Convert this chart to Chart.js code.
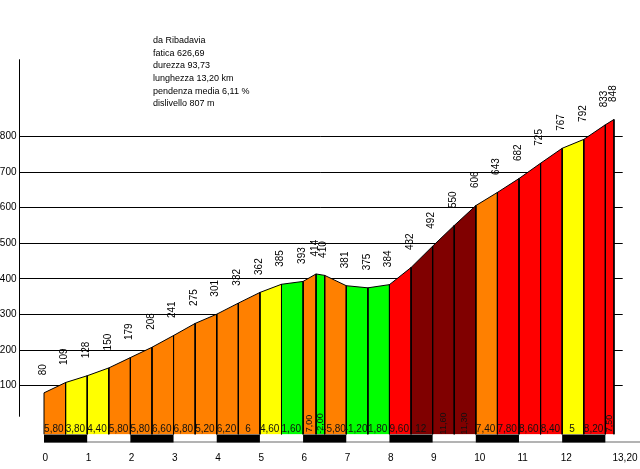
<!DOCTYPE html>
<html><head><meta charset="utf-8">
<script src="https://cdn.jsdelivr.net/npm/chart.js@4/dist/chart.umd.min.js"></script>
<style>html,body{margin:0;padding:0;background:#fff}#wrap{width:640px;height:469px;position:relative}</style>
</head><body><div id="wrap"><canvas id="c"></canvas></div>
<script>
// ---- data ----
const distances = [0,0.5,1,1.5,2,2.5,3,3.5,4,4.5,5,5.5,6,6.3,6.5,7,7.5,8,8.5,9,9.5,10,10.5,11,11.5,12,12.5,13,13.2];
const elevations = [80,109,128,150,179,208,241,275,301,332,362,385,393,414,410,381,375,384,432,492,550,606,643,682,725,767,792,833,848];
const gradients = [5.8,3.8,4.4,5.8,5.8,6.6,6.8,5.2,6.2,6,4.6,1.6,7,-2,-5.8,-1.2,1.8,9.6,12,11.6,11.3,7.4,7.8,8.6,8.4,5,8.2,7.5];
const gradientLabels = ['5,80','3,80','4,40','5,80','5,80','6,60','6,80','5,20','6,20','6','4,60','1,60','7,00','-2,00','-5,80','-1,20','1,80','9,60','12','11,60','11,30','7,40','7,80','8,60','8,40','5','8,20','7,50'];
const xTicks = [0,1,2,3,4,5,6,7,8,9,10,11,12,13.2];
const xTickLabels = ['0','1','2','3','4','5','6','7','8','9','10','11','12','13,20'];
const yTicks = [100,200,300,400,500,600,700,800];
const kmBlackStarts = [0,2,4,6,8,10,12];
const infoLines = ['da Ribadavia','fatica 626,69','durezza 93,73','lunghezza 13,20 km','pendenza media 6,11 %','dislivello 807 m'];

// ---- scale ranges ----
const X_MIN = -0.579, X_MAX = 13.402;
const Y_MIN = -37, Y_MAX = 1017;
const AXIS_LINE_BOTTOM = 13;

function gradeColor(g){
  const a = Math.abs(g);
  if (a < 3) return '#00ff00';
  if (a <= 5) return '#ffff00';
  if (a < 7.5) return '#ff8000';
  if (a < 10) return '#ff0000';
  return '#800000';
}

const datasets = gradients.map((g,i)=>({
  data:[
    {x:distances[i],y:Y_MIN},
    {x:distances[i],y:elevations[i]},
    {x:distances[i+1],y:elevations[i+1]},
    {x:distances[i+1],y:Y_MIN}
  ],
  backgroundColor: gradeColor(g),
  borderColor:'#000',
  borderWidth:1,
  fill:'start',
  pointRadius:0,
  tension:0
}));

const FONT = '"Liberation Sans", Arial, sans-serif';

const overlay = {
  id:'overlay',
  afterDraw(chart){
    const ctx = chart.ctx, xs = chart.scales.x, ys = chart.scales.y, ca = chart.chartArea;
    ctx.save();
    // y axis line
    ctx.strokeStyle = '#000'; ctx.lineWidth = 1;
    ctx.beginPath();
    ctx.moveTo(Math.round(ca.left)+0.5, ca.top);
    ctx.lineTo(Math.round(ca.left)+0.5, ys.getPixelForValue(AXIS_LINE_BOTTOM));
    ctx.stroke();
    // km strip
    const stripTop = ca.bottom, stripBot = ca.bottom + 8;
    ctx.strokeStyle = '#9a9a9a'; ctx.lineWidth = 1.5;
    ctx.beginPath();
    ctx.moveTo(xs.getPixelForValue(0), stripBot - 0.5);
    ctx.lineTo(chart.width, stripBot - 0.5);
    ctx.stroke();
    ctx.fillStyle = '#000';
    kmBlackStarts.forEach(k=>{
      const a = xs.getPixelForValue(k), b = xs.getPixelForValue(Math.min(k+1, distances[distances.length-1]));
      ctx.fillRect(a, stripTop, b-a, stripBot-stripTop);
    });
    // gradient labels
    ctx.fillStyle = '#111';
    gradientLabels.forEach((lab,i)=>{
      const a = xs.getPixelForValue(distances[i]), b = xs.getPixelForValue(distances[i+1]);
      const w = b - a, cx = (a+b)/2;
      ctx.font = '10px ' + FONT;
      const tw = ctx.measureText(lab.replace(/^-/,'')).width;
      if (tw > w) {
        ctx.save();
        ctx.font = '9px ' + FONT;
        ctx.translate(cx, ca.bottom - 11);
        ctx.rotate(-Math.PI/2);
        ctx.textAlign = 'center'; ctx.textBaseline = 'middle';
        ctx.fillText(lab, 0, 0);
        ctx.restore();
      } else {
        ctx.textAlign = 'center'; ctx.textBaseline = 'middle';
        ctx.fillText(lab, cx - 1, ca.bottom - 5.5);
      }
    });
    // elevation labels
    ctx.fillStyle = '#000';
    ctx.font = '10px ' + FONT;
    elevations.forEach((e,i)=>{
      const px = xs.getPixelForValue(distances[i]), py = ys.getPixelForValue(e);
      ctx.save();
      ctx.translate(px - 1, py - 17.5);
      ctx.rotate(-Math.PI/2);
      ctx.textAlign = 'left'; ctx.textBaseline = 'middle';
      ctx.fillText(String(e), 0, 0);
      ctx.restore();
    });
    // info block
    ctx.font = '9px ' + FONT;
    ctx.textAlign = 'left'; ctx.textBaseline = 'middle';
    infoLines.forEach((t,i)=>ctx.fillText(t, 153, 40.7 + i*12.6));
    ctx.restore();
  }
};

new Chart(document.getElementById('c'), {
  type:'line',
  data:{datasets},
  options:{
    responsive:true, maintainAspectRatio:false, animation:false,
    layout:{autoPadding:false, padding:{top:59.3, right:17.3, left:0, bottom:0}},
    plugins:{legend:{display:false}, tooltip:{enabled:false}, title:{display:false}},
    scales:{
      x:{
        type:'linear', min:X_MIN, max:X_MAX,
        grid:{display:false, drawTicks:false, tickLength:0},
        border:{display:false},
        afterBuildTicks(s){ s.ticks = xTicks.map(v=>({value:v})); },
        afterFit(s){ s.height = 34.5; s.paddingLeft = 0; s.paddingRight = 0; },
        ticks:{autoSkip:false, maxRotation:0, minRotation:0, align:'start', labelOffset:-1.5, padding:17.5,
          color:'#000', font:{family:FONT, size:10},
          callback:(v,i)=>xTickLabels[i]}
      },
      y:{
        type:'linear', min:Y_MIN, max:Y_MAX, z:1,
        grid:{color:'#000', lineWidth:1, drawTicks:false, tickLength:0},
        border:{display:false},
        afterBuildTicks(s){ s.ticks = yTicks.map(v=>({value:v})); },
        afterFit(s){ s.width = 19; s.paddingTop = 0; s.paddingBottom = 0; },
        ticks:{padding:2.5, color:'#000', font:{family:FONT, size:10},
          callback:(v)=>String(v)}
      }
    }
  },
  plugins:[overlay]
});
</script></body></html>
